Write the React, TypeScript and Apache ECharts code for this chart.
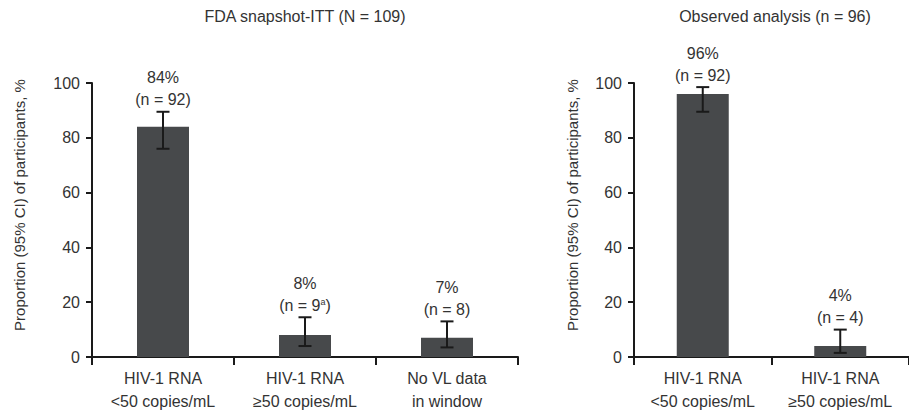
import React, { useEffect, useRef } from "react";
import * as echarts from "echarts";

const leftTitle = "FDA snapshot-ITT (N = 109)";
const rightTitle = "Observed analysis (n = 96)";
const yAxisTitle = "Proportion (95% CI) of participants, %";

const leftCategories = ["HIV-1 RNA\n<50 copies/mL", "HIV-1 RNA\n≥50 copies/mL", "No VL data\nin window"];
const leftValues = [84, 8, 7];
const leftLow = [76, 4, 3.5];
const leftHigh = [89.5, 14.5, 13];
const leftN = ["{t|(n = 92)}", "{t|(n = 9}{s|a}{t|)}", "{t|(n = 8)}"];

const rightCategories = ["HIV-1 RNA\n<50 copies/mL", "HIV-1 RNA\n≥50 copies/mL"];
const rightValues = [96, 4];
const rightLow = [89.5, 1.5];
const rightHigh = [98.5, 10];
const rightN = ["{t|(n = 92)}", "{t|(n = 4)}"];

const yTicks = [0, 20, 40, 60, 80, 100];

const FONT = "'Liberation Sans', Arial, sans-serif";
const TEXT = "#333333";
const BAR = "#47494b";
const AX = "#1a1a1a";
const FS = 16;

function errorSeries(axisIdx: number, values: number[], low: number[], high: number[], nLabels: string[]) {
  return {
    type: "custom",
    xAxisIndex: axisIdx,
    yAxisIndex: axisIdx,
    z: 10,
    clip: false,
    data: values.map((v, i) => [i, low[i], high[i], v]),
    renderItem: (params: any, api: any) => {
      const i = params.dataIndex;
      const top = api.coord([api.value(0), api.value(2)]);
      const bot = api.coord([api.value(0), api.value(1)]);
      const half = 6.5;
      const ls = { stroke: AX, lineWidth: 2 };
      return {
        type: "group",
        children: [
          { type: "line", shape: { x1: top[0], y1: top[1], x2: bot[0], y2: bot[1] }, style: ls },
          { type: "line", shape: { x1: top[0] - half, y1: top[1], x2: top[0] + half, y2: top[1] }, style: ls },
          { type: "line", shape: { x1: bot[0] - half, y1: bot[1], x2: bot[0] + half, y2: bot[1] }, style: ls },
          {
            type: "text",
            x: top[0],
            y: top[1] - 34,
            style: { text: values[i] + "%", fill: TEXT, font: FS + "px " + FONT, textAlign: "center", textVerticalAlign: "middle" },
          },
          {
            type: "text",
            x: top[0],
            y: top[1] - 12,
            style: {
              text: nLabels[i],
              textAlign: "center",
              textVerticalAlign: "middle",
              rich: {
                t: { fontSize: FS, fontFamily: FONT, fill: TEXT, color: TEXT },
                s: { fontSize: 9, fontFamily: FONT, fill: TEXT, color: TEXT, verticalAlign: "top", padding: [0, 0, 7, 0] },
              },
            },
          },
        ],
      };
    },
  };
}

function xAxis(idx: number, cats: string[]) {
  return {
    type: "category",
    gridIndex: idx,
    data: cats,
    boundaryGap: true,
    axisLine: { show: true, lineStyle: { color: AX, width: 2 } },
    axisTick: { show: true, length: 8, lineStyle: { color: AX, width: 2 } },
    axisLabel: { color: TEXT, fontSize: FS, fontFamily: FONT, lineHeight: 23, margin: 10, interval: 0 },
    splitLine: { show: false },
  };
}

function yAxis(idx: number) {
  return {
    type: "value",
    gridIndex: idx,
    min: yTicks[0],
    max: yTicks[yTicks.length - 1],
    interval: yTicks[1] - yTicks[0],
    axisLine: { show: true, lineStyle: { color: AX, width: 2 } },
    axisTick: { show: true, length: 6, lineStyle: { color: AX, width: 2 } },
    axisLabel: { color: TEXT, fontSize: FS, fontFamily: FONT, margin: 12 },
    splitLine: { show: false },
  };
}

export default function App() {
  const ref = useRef<HTMLDivElement>(null);
  useEffect(() => {
    if (!ref.current) return;
    const chart = echarts.init(ref.current, undefined, { renderer: "svg" });
    chart.setOption({
      animation: false,
      backgroundColor: "#ffffff",
      title: [
        { text: leftTitle, left: 305, top: 8, padding: 0, textAlign: "center", textStyle: { fontSize: FS, fontWeight: "normal", color: TEXT, fontFamily: FONT } },
        { text: rightTitle, left: 775, top: 8, padding: 0, textAlign: "center", textStyle: { fontSize: FS, fontWeight: "normal", color: TEXT, fontFamily: FONT } },
      ],
      graphic: [
        { type: "text", x: 19, y: 205, rotation: Math.PI / 2, style: { text: yAxisTitle, fill: TEXT, font: "15px " + FONT, textAlign: "center", textVerticalAlign: "middle" } },
        { type: "text", x: 572, y: 205, rotation: Math.PI / 2, style: { text: yAxisTitle, fill: TEXT, font: "15px " + FONT, textAlign: "center", textVerticalAlign: "middle" } },
      ],
      grid: [
        { left: 92, right: 391, top: 83, bottom: 59 },
        { left: 634, right: -7, top: 83, bottom: 59 },
      ],
      xAxis: [xAxis(0, leftCategories), xAxis(1, rightCategories)],
      yAxis: [yAxis(0), yAxis(1)],
      series: [
        { type: "bar", xAxisIndex: 0, yAxisIndex: 0, data: leftValues, barWidth: 52, itemStyle: { color: BAR } },
        { type: "bar", xAxisIndex: 1, yAxisIndex: 1, data: rightValues, barWidth: 52, itemStyle: { color: BAR } },
        errorSeries(0, leftValues, leftLow, leftHigh, leftN),
        errorSeries(1, rightValues, rightLow, rightHigh, rightN),
      ],
    });
    return () => chart.dispose();
  }, []);
  return <div ref={ref} style={{ position: "absolute", left: 0, top: 0, width: 909, height: 416 }} />;
}
